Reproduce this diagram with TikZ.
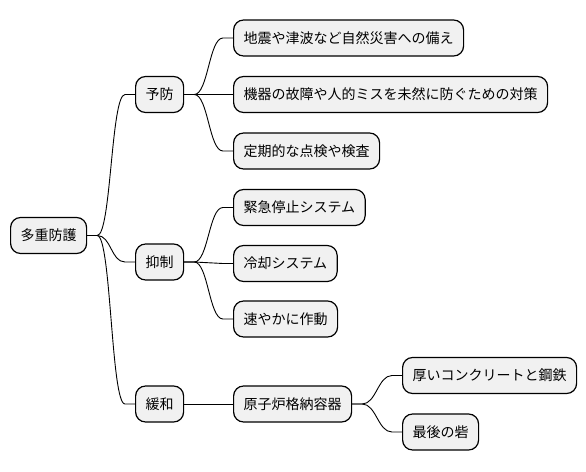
\documentclass[tikz,border=0pt]{standalone}
\usepackage{fontspec}
\setmainfont{Noto Sans CJK JP}
\usetikzlibrary{calc}
\begin{document}
\begin{tikzpicture}[x=1pt,y=-1pt,
  mm/.style={draw=black, fill={rgb,255:red,241;green,241;blue,241}, line width=1.2pt,
    rounded corners=10pt, minimum height=36pt, inner xsep=10pt, inner ysep=0pt,
    anchor=west, font=\fontsize{14pt}{17pt}\selectfont},
  conn/.style={draw=black, line width=0.9pt}]
\useasboundingbox (0,0) rectangle (586,471);
\node[mm] (root) at (10,235.5) {多重防護};
\node[mm] (a) at (135,94.5) {予防};
\node[mm] (a1) at (233,38) {地震や津波など自然災害への備え};
\node[mm] (a2) at (233,94.5) {機器の故障や人的ミスを未然に防ぐための対策};
\node[mm] (a3) at (233,151) {定期的な点検や検査};
\node[mm] (b) at (135,262) {抑制};
\node[mm] (b1) at (233,207.5) {緊急停止システム};
\node[mm] (b2) at (233,263.5) {冷却システム};
\node[mm] (b3) at (233,319) {速やかに作動};
\node[mm] (c) at (135,404) {緩和};
\node[mm] (c1) at (233,404) {原子炉格納容器};
\node[mm] (c11) at (402,375.5) {厚いコンクリートと鋼鉄};
\node[mm] (c12) at (402,432) {最後の砦};
\newcommand{\lnk}[2]{%
  \draw[conn] (#1.east) -- ++(10,0) .. controls +(14,0) and +(-14,0) .. ($(#2.west)+(-10,0)$) -- (#2.west);}
\lnk{root}{a}
\lnk{root}{b}
\lnk{root}{c}
\lnk{a}{a1}
\lnk{a}{a2}
\lnk{a}{a3}
\lnk{b}{b1}
\lnk{b}{b2}
\lnk{b}{b3}
\draw[conn] (c.east) -- (c1.west);
\lnk{c1}{c11}
\lnk{c1}{c12}
\end{tikzpicture}
\end{document}
